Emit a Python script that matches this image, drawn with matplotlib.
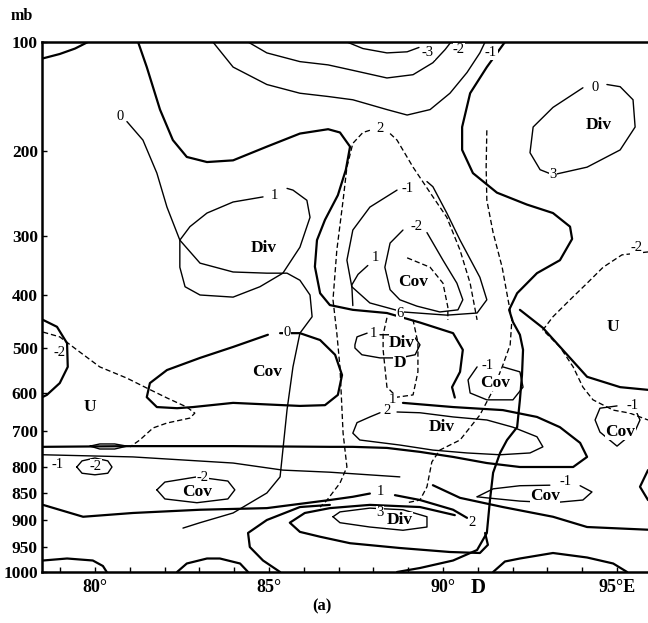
#!/usr/bin/env python3
"""Cross-section of divergence (lon vs pressure), hand-drawn isolines."""

import matplotlib
matplotlib.use("Agg")
import matplotlib.pyplot as plt
import numpy as np

plt.rcParams.update({
    "font.family": ["Liberation Serif", "DejaVu Serif"],
    "font.size": 10,
})

# ---------------------------------------------------------------- data
# pressure ticks (mb) and their tick labels
P_TICKS = [100, 200, 300, 400, 500, 600, 700, 800, 850, 900, 950, 1000]
LON_MAJOR = [80, 85, 90, 95]
LON_LABELS = ["80°", "85°", "90°", "95°E"]

# isolines as (lon, p) vertices
TOP_LEFT_ARC = [(78.51, 115), (78.99, 111), (79.43, 106), (79.80, 100)]
THICK_B = [(81.24, 100), (81.49, 123), (81.87, 162), (82.24, 190), (82.64, 207),
           (83.22, 213), (83.97, 211), (84.94, 196), (85.89, 184), (86.70, 180),
           (87.04, 183), (87.33, 196), (87.21, 222), (86.98, 252), (86.61, 281),
           (86.38, 307), (86.32, 352), (86.47, 397), (86.75, 419), (87.41, 428),
           (88.39, 434), (89.34, 452), (90.29, 472), (90.57, 504), (90.49, 553),
           (90.26, 587), (90.34, 612)]
ZERO_LEFT = [(80.92, 173), (81.38, 190), (81.78, 226), (82.07, 266), (82.44, 307),
             (83.02, 346), (83.97, 361), (84.94, 363), (85.52, 363), (85.89, 375),
             (86.18, 400), (86.24, 441), (85.89, 472), (85.69, 542), (85.52, 644),
             (85.40, 753), (85.32, 819), (84.94, 850), (83.97, 887), (83.02, 905),
             (82.53, 915)]
ONE_DIV = [(84.83, 254), (83.97, 260), (83.22, 273), (82.73, 289), (82.44, 307),
           (82.44, 353), (82.59, 386), (83.02, 400), (83.97, 404), (84.74, 386),
           (85.40, 363), (85.89, 319), (86.18, 278), (86.09, 258), (85.69, 246),
           (85.52, 244)]
M3_TOP = [(87.24, 100), (87.70, 106), (88.39, 110), (88.97, 109), (89.31, 105)]
M2_TOP = [(84.40, 100), (84.94, 110), (85.89, 118), (86.70, 121), (87.41, 126),
          (88.39, 133), (89.14, 130), (89.71, 119), (90.06, 107), (90.23, 100)]
M1_TOP = [(83.39, 100), (83.97, 123), (84.94, 139), (85.89, 147), (86.70, 150),
          (87.41, 153), (88.39, 162), (88.97, 167), (89.63, 162), (90.20, 147),
          (90.69, 128), (91.06, 110), (91.21, 100)]
THICK_C = [(91.78, 100), (91.26, 123), (90.78, 147), (90.55, 178), (90.55, 199),
           (90.86, 226), (91.55, 249), (92.41, 263), (93.16, 273), (93.65, 289),
           (93.71, 305), (93.36, 341), (92.70, 363), (92.13, 397), (91.90, 428),
           (92.01, 451), (92.21, 475), (92.30, 504), (92.27, 560), (92.21, 618),
           (92.13, 690), (91.84, 725), (91.64, 761), (91.44, 811), (91.35, 863),
           (91.26, 924), (90.98, 956), (90.29, 977), (89.34, 992), (88.68, 1000)]
ZERO_DIV_UR = [(94.02, 142), (93.16, 160), (92.59, 178), (92.50, 202), (92.79, 222),
               (93.16, 228), (94.14, 219), (95.09, 199), (95.52, 178), (95.46, 153),
               (95.09, 141), (94.71, 139)]
DASH_D1 = [(91.26, 181), (91.24, 219), (91.26, 258), (91.44, 296), (91.70, 353),
           (91.87, 409), (91.98, 447), (91.93, 494), (91.72, 538), (91.44, 593),
           (91.06, 658), (90.49, 725), (89.91, 753), (89.68, 786), (89.54, 838),
           (89.34, 863), (88.97, 868)]
DASH_D2_R = [(88.48, 184), (88.68, 190), (89.14, 219), (89.63, 249), (90.11, 278),
             (90.49, 324), (90.78, 380), (90.98, 447)]
DASH_D2_L = [(87.90, 181), (87.70, 183), (87.41, 193), (87.24, 219), (87.13, 258),
             (86.95, 324), (86.84, 409), (86.95, 472), (87.04, 542), (87.13, 706),
             (87.24, 800), (87.04, 831), (86.67, 863), (86.47, 876)]
M1_COV = [(88.68, 246), (87.90, 266), (87.41, 293), (87.24, 341), (87.38, 386),
          (87.90, 415), (88.85, 432), (90.11, 438), (90.98, 434), (91.26, 409),
          (91.06, 370), (90.49, 307), (90.11, 273), (89.71, 242), (89.54, 236)]
M2_COV = [(89.54, 296), (90.00, 341), (90.40, 380), (90.57, 409), (90.43, 428),
          (89.91, 432), (89.25, 421), (88.76, 409), (88.48, 391), (88.33, 353),
          (88.48, 312), (88.85, 293)]
DASH_COV_IN = [(88.97, 337), (89.63, 353), (90.00, 380), (90.14, 423), (90.14, 447)]
ONE_HOOK = [(87.84, 350), (87.56, 365), (87.38, 383), (87.41, 420)]
DASH_M2_R = [(95.89, 327), (95.14, 332), (94.60, 353), (94.14, 380), (93.65, 409),
             (93.16, 441), (92.87, 466), (93.16, 485), (93.36, 498), (93.74, 542),
             (94.02, 587), (94.31, 618), (94.89, 645), (95.37, 653), (95.89, 671)]
THICK_R = [(92.21, 428), (92.87, 462), (94.14, 564), (95.09, 587), (95.89, 593)]
M2_LEFT_ARC = [(78.51, 447), (78.91, 460), (79.20, 491), (79.22, 542), (78.99, 578),
               (78.62, 605), (78.51, 610)]
DASH_LOBE = [(78.51, 470), (78.99, 479), (79.48, 504), (80.14, 542), (80.92, 567),
             (81.49, 589), (82.07, 613), (82.64, 637), (82.87, 653), (82.73, 666),
             (82.07, 679), (81.67, 692), (81.29, 725), (81.01, 744)]
ZERO_TONGUE = [(85.32, 472), (85.89, 472), (86.47, 485), (86.90, 515), (87.10, 560),
               (86.98, 605), (86.61, 632), (85.89, 634), (85.40, 632), (83.97, 626),
               (82.82, 637), (82.36, 640), (81.78, 637), (81.49, 611), (81.58, 578),
               (82.07, 549), (83.02, 522), (83.97, 498), (84.97, 475)]
ONE_BAND = [(88.85, 626), (90.29, 637), (91.72, 645), (92.70, 663), (93.36, 690),
            (93.94, 733), (94.14, 772), (93.74, 800), (93.16, 800), (92.21, 800),
            (91.26, 789), (90.29, 772), (89.34, 758), (88.39, 747), (87.41, 744),
            (86.75, 744), (83.97, 742), (81.09, 742), (78.51, 744)]
TWO_DIV = [(88.68, 650), (89.34, 652), (90.29, 663), (91.26, 671), (92.01, 690),
           (92.70, 716), (92.87, 744), (92.50, 761), (91.64, 766), (90.69, 761),
           (89.71, 753), (88.76, 739), (87.61, 725), (87.41, 706), (87.53, 678),
           (87.90, 663), (88.19, 652)]
THIN_LOW = [(78.51, 766), (81.09, 772), (83.97, 789), (85.40, 806), (86.75, 810),
            (88.76, 819)]
SMALL_LOOP = [(79.86, 742), (80.14, 736), (80.57, 736), (80.92, 742), (80.57, 750),
              (80.14, 750), (79.86, 742)]
M2_SMALL = [(79.48, 800), (79.63, 783), (80.00, 775), (80.37, 783), (80.49, 800),
            (80.37, 812), (80.00, 815), (79.63, 812), (79.48, 800)]
ONE_LOW_L = [(78.51, 872), (79.66, 894), (81.09, 887), (83.02, 881), (84.94, 878),
             (86.75, 863), (87.41, 857), (87.90, 851)]
ONE_LOW_R = [(88.62, 854), (89.34, 863), (90.29, 881), (90.69, 896)]
M2_COV_LOW = [(81.78, 844), (82.01, 829), (82.93, 819), (83.82, 827), (84.02, 844),
              (83.82, 861), (82.93, 868), (82.01, 861), (81.78, 844)]
BOT_LEFT = [(78.51, 977), (79.20, 973), (79.94, 977), (80.23, 988), (80.34, 1000)]
BOT_ARC = [(82.36, 1000), (82.64, 983), (83.22, 973), (83.59, 973), (84.17, 983),
           (84.40, 1000)]
U_CURVE = [(86.75, 872), (85.89, 876), (84.94, 900), (84.40, 924), (84.45, 950),
           (84.83, 977), (85.32, 1000)]
THREE_DIV = [(86.84, 894), (87.04, 885), (87.90, 878), (88.85, 881), (89.54, 894),
             (89.54, 913), (88.85, 919), (87.90, 913), (87.04, 905), (86.84, 894)]
TWO_OUTER = [(90.34, 891), (89.34, 876), (87.90, 872), (86.75, 878), (86.03, 887),
             (85.60, 905), (85.89, 922), (86.47, 931), (87.33, 943), (88.76, 952),
             (90.20, 960), (91.06, 962), (91.29, 946), (91.21, 924)]
M1_COV_LOW = [(90.98, 857), (91.44, 842), (92.21, 836), (93.07, 835)]
M1_COV_LOW_B = [(93.94, 836), (94.28, 848), (94.02, 863), (93.16, 868), (92.21, 865),
                (91.26, 859), (90.98, 857)]
THICK_LOW_R = [(89.71, 835), (90.49, 859), (91.72, 876), (93.16, 894), (94.14, 913),
               (95.89, 918)]
EDGE_ARC = [(95.89, 806), (95.66, 838), (95.89, 863)]
M1_COV_R = [(95.52, 642), (95.66, 671), (95.52, 700), (95.00, 742), (94.51, 703),
            (94.37, 671), (94.51, 640), (95.00, 634)]
BOT_RIGHT = [(91.44, 1000), (91.78, 979), (92.21, 973), (93.16, 962), (94.14, 971),
             (94.89, 983), (95.29, 1000)]
DASH_DD = [(88.39, 443), (88.28, 475), (88.28, 504), (88.39, 587), (88.68, 611),
           (89.14, 605), (89.28, 553), (89.28, 490), (89.14, 447)]
ONE_DD = [(87.82, 472), (87.53, 479), (87.47, 494), (87.47, 500), (87.67, 515),
          (88.19, 522), (88.76, 522), (89.20, 515), (89.34, 494), (89.20, 481),
          (88.76, 475), (88.19, 475)]
M1_COV_MID = [(90.98, 542), (90.72, 571), (90.78, 600), (91.26, 618), (92.01, 618),
              (92.30, 587), (92.21, 553), (91.72, 542)]

# isoline values written on the chart
NUM_TEXT = ["0", "1", "-3", "-2", "-1", "0", "3", "2", "-1", "-2", "1", "-2",
            "6", "1", "0", "-2", "-1", "1", "2", "-1", "-1", "-2", "-2", "-1",
            "1", "3", "2"]
NUM_LON = [80.72, 85.17, 89.57, 90.46, 91.38, 94.37, 93.16, 88.19, 88.99, 89.25,
           88.05, 95.57, 88.76, 87.99, 85.52, 78.99, 91.29, 88.56, 88.39, 95.46,
           78.94, 80.03, 83.10, 93.53, 88.19, 88.19, 90.83]
NUM_P = [168, 252, 110, 107, 110, 142, 228, 179, 244, 289, 337, 320, 434, 472,
         470, 511, 538, 618, 645, 634, 794, 798, 821, 827, 848, 887, 905]

# region names
REGION_TEXT = ["Div", "Div", "Cov", "Div", "D", "Cov", "Cov", "U", "U", "Div",
               "Cov", "Cov", "Cov", "Div"]
REGION_LON = [84.85, 94.47, 89.14, 88.82, 88.76, 91.49, 84.94, 79.86, 94.89,
              89.97, 95.09, 82.93, 92.93, 88.76]
REGION_P = [320, 176, 378, 490, 533, 578, 553, 637, 461, 690, 703, 848, 855, 900]

# ---------------------------------------------------------------- styles
THICK = dict(color="black", lw=1.6, solid_capstyle="round")
THIN = dict(color="black", lw=1.0, solid_capstyle="round")
DASH = dict(color="black", lw=0.95, ls=(0, (4, 2.2)))

LINES = [
    (TOP_LEFT_ARC, THICK), (THICK_B, THICK), (ZERO_LEFT, THIN), (ONE_DIV, THIN),
    (M3_TOP, THIN), (M2_TOP, THIN), (M1_TOP, THIN), (THICK_C, THICK),
    (ZERO_DIV_UR, THIN), (DASH_D1, DASH), (DASH_D2_R, DASH), (DASH_D2_L, DASH),
    (M1_COV, THIN), (M2_COV, THIN), (DASH_COV_IN, DASH), (ONE_HOOK, THIN),
    (DASH_M2_R, DASH), (THICK_R, THICK), (M2_LEFT_ARC, THICK), (DASH_LOBE, DASH),
    (ZERO_TONGUE, THICK), (ONE_BAND, THICK), (TWO_DIV, THIN), (THIN_LOW, THIN),
    (SMALL_LOOP, THIN), (M2_SMALL, THIN), (ONE_LOW_L, THICK), (ONE_LOW_R, THICK),
    (M2_COV_LOW, THIN), (BOT_LEFT, THICK), (BOT_ARC, THICK), (U_CURVE, THICK),
    (THREE_DIV, THIN), (TWO_OUTER, THICK), (M1_COV_LOW, THIN), (M1_COV_LOW_B, THIN),
    (THICK_LOW_R, THICK), (EDGE_ARC, THICK), (M1_COV_R, THIN), (BOT_RIGHT, THICK),
    (DASH_DD, DASH), (ONE_DD, THIN), (M1_COV_MID, THIN),
]

# vertical placement of the pressure levels (fraction of axis height from top)
LEVEL_FRAC = np.array([0, 109, 194, 253, 306, 351, 389, 425, 451, 478, 505, 530]) / 530.0


def p_forward(p):
    return np.interp(p, P_TICKS, LEVEL_FRAC)


def p_inverse(v):
    return np.interp(v, LEVEL_FRAC, P_TICKS)


def main():
    fig = plt.figure(figsize=(6.48, 6.23), dpi=100)
    ax = fig.add_axes([42 / 648, 1 - 572 / 623, 1 - 42 / 648, 530 / 623])

    for pts, style in LINES:
        lon, p = zip(*pts)
        ax.plot(lon, p, **style, zorder=2)

    for txt, lo, pr in zip(NUM_TEXT, NUM_LON, NUM_P):
        ax.text(lo, pr, txt, fontsize=10.5, ha="center", va="center", zorder=4,
                bbox=dict(fc="white", ec="none", pad=0.3))
    for txt, lo, pr in zip(REGION_TEXT, REGION_LON, REGION_P):
        ax.text(lo, pr, txt, fontsize=12.5, fontweight="bold", ha="center",
                va="center", zorder=4, bbox=dict(fc="white", ec="none", pad=0.3))

    ax.set_yscale("function", functions=(p_forward, p_inverse))
    ax.set_ylim(1000, 100)
    ax.set_xlim(78.48, 95.89)

    ax.set_yticks(P_TICKS)
    ax.set_yticklabels([str(v) for v in P_TICKS], fontsize=12.5, fontweight="bold")
    ax.set_xticks(LON_MAJOR)
    ax.set_xticklabels(LON_LABELS, fontsize=13, fontweight="bold")
    ax.set_xticks(np.arange(79, 96, 1), minor=True)
    ax.yaxis.set_minor_locator(plt.NullLocator())
    ax.tick_params(axis="both", which="both", direction="in", length=3.5, width=1.0,
                   pad=3)
    ax.tick_params(axis="x", which="major", pad=5)

    for side in ("top", "left", "bottom"):
        ax.spines[side].set_linewidth(1.8)
    ax.spines["right"].set_visible(False)

    ax.text(91.0, -0.012, "D", transform=ax.get_xaxis_transform(), fontsize=15,
            fontweight="bold", ha="center", va="top")
    fig.text(22 / 648, 1 - 16 / 623, "mb", fontsize=11.5, fontweight="bold",
             ha="center", va="center")
    fig.text(322 / 648, 1 - 606 / 623, "(a)", fontsize=12, fontweight="bold",
             ha="center", va="center")

    fig.savefig("out.png", dpi=100)


if __name__ == "__main__":
    main()
